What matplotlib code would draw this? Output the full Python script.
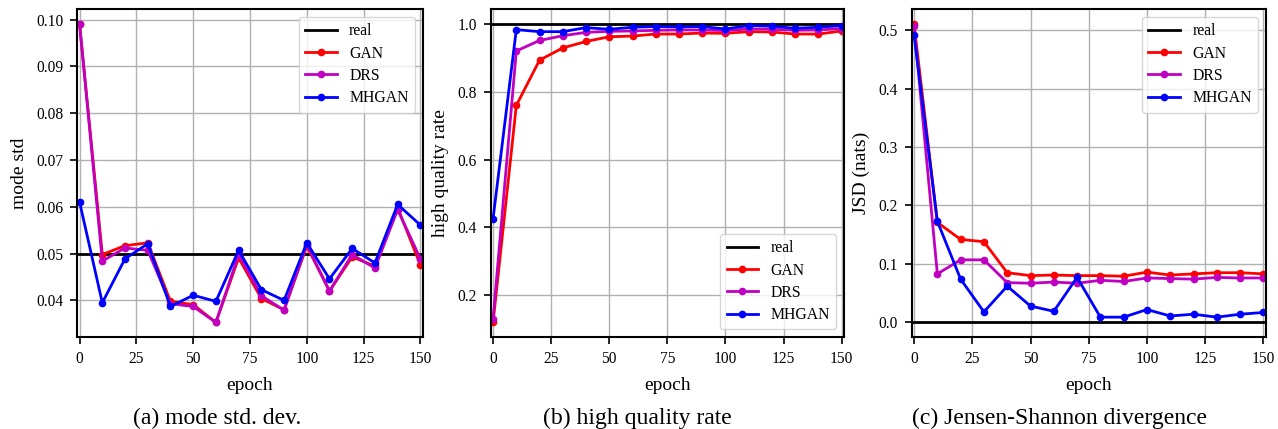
import matplotlib
matplotlib.use("Agg")
import matplotlib.pyplot as plt

plt.rcParams['font.family'] = ['Liberation Serif', 'DejaVu Serif']

epochs = [0, 10, 20, 30, 40, 50, 60, 70, 80, 90, 100, 110, 120, 130, 140, 150]

# (a) mode std
std_real = 0.05
std_gan = [0.0990, 0.0498, 0.0517, 0.0523, 0.0398, 0.0391, 0.0353, 0.0491,
           0.0404, 0.0380, 0.0516, 0.0420, 0.0493, 0.0473, 0.0598, 0.0476]
std_drs = [0.0990, 0.0484, 0.0512, 0.0507, 0.0393, 0.0387, 0.0353, 0.0498,
           0.0410, 0.0379, 0.0519, 0.0420, 0.0498, 0.0469, 0.0594, 0.0489]
std_mh = [0.0610, 0.0395, 0.0489, 0.0521, 0.0387, 0.0411, 0.0398, 0.0507,
          0.0423, 0.0400, 0.0523, 0.0446, 0.0511, 0.0480, 0.0605, 0.0561]

# (b) high quality rate
hq_real = 1.0
hq_gan = [0.119, 0.760, 0.894, 0.930, 0.949, 0.963, 0.965, 0.971,
          0.971, 0.974, 0.973, 0.978, 0.977, 0.971, 0.971, 0.980]
hq_drs = [0.129, 0.921, 0.952, 0.966, 0.976, 0.979, 0.980, 0.982,
          0.983, 0.983, 0.981, 0.986, 0.985, 0.982, 0.983, 0.987]
hq_mh = [0.426, 0.984, 0.978, 0.978, 0.990, 0.985, 0.991, 0.993,
         0.992, 0.993, 0.986, 0.996, 0.994, 0.988, 0.991, 0.996]

# (c) JSD
jsd_real = 0.0
jsd_gan = [0.510, 0.171, 0.142, 0.138, 0.085, 0.080, 0.081, 0.080,
           0.080, 0.079, 0.086, 0.081, 0.083, 0.085, 0.085, 0.083]
jsd_drs = [0.507, 0.083, 0.107, 0.107, 0.068, 0.067, 0.069, 0.067,
           0.072, 0.070, 0.076, 0.075, 0.074, 0.077, 0.076, 0.076]
jsd_mh = [0.491, 0.173, 0.074, 0.018, 0.062, 0.028, 0.019, 0.077,
          0.009, 0.009, 0.022, 0.011, 0.014, 0.009, 0.014, 0.017]

panels = [
    dict(real=std_real, gan=std_gan, drs=std_drs, mh=std_mh, ylabel='mode std',
         caption='(a) mode std. dev.', loc='upper right',
         yticks=[0.04, 0.05, 0.06, 0.07, 0.08, 0.09, 0.10], fmt='{:.2f}'),
    dict(real=hq_real, gan=hq_gan, drs=hq_drs, mh=hq_mh, ylabel='high quality rate',
         caption='(b) high quality rate', loc='lower right',
         yticks=[0.2, 0.4, 0.6, 0.8, 1.0], fmt='{:.1f}'),
    dict(real=jsd_real, gan=jsd_gan, drs=jsd_drs, mh=jsd_mh, ylabel='JSD (nats)',
         caption='(c) Jensen-Shannon divergence', loc='upper right',
         yticks=[0.0, 0.1, 0.2, 0.3, 0.4, 0.5], fmt='{:.1f}'),
]

fig = plt.figure(figsize=(12.78, 4.29), dpi=100)
lefts = [0.0605, 0.3840, 0.7134]
widths = [0.2702, 0.2764, 0.2770]
cap_x = [0.170, 0.499, 0.829]

lw = 2.0
ms = 4.5
for i, p in enumerate(panels):
    ax = fig.add_axes([lefts[i], 0.2137, widths[i], 0.7646])
    ax.grid(True, color='#b0b0b0', linewidth=1.0)
    ax.set_axisbelow(True)
    ax.axhline(p['real'], color='black', lw=lw, label='real')
    ax.plot(epochs, p['gan'], color='#ff0000', lw=lw, marker='o', ms=ms, label='GAN')
    ax.plot(epochs, p['drs'], color='#c000c0', lw=lw, marker='o', ms=ms, label='DRS')
    ax.plot(epochs, p['mh'], color='#0000ff', lw=lw, marker='o', ms=ms, label='MHGAN')
    allv = p['gan'] + p['drs'] + p['mh'] + [p['real']]
    lo, hi = min(allv), max(allv)
    m = (hi - lo) * 0.05
    ax.set_ylim(lo - m, hi + m)
    ax.set_xlim(-1, 151)
    ax.set_xticks([0, 25, 50, 75, 100, 125, 150])
    ax.set_yticks(p['yticks'])
    ax.set_yticklabels([p['fmt'].format(v) for v in p['yticks']])
    ax.tick_params(labelsize=11.2, width=1.2, length=5, pad=5)
    for s in ax.spines.values():
        s.set_linewidth(1.5)
    ax.set_xlabel('epoch', fontsize=14, labelpad=7)
    ax.set_ylabel(p['ylabel'], fontsize=14, labelpad=6)
    ax.legend(loc=p['loc'], fontsize=11.3, labelspacing=0.4)
    fig.text(cap_x[i], 1 - 408 / 429, p['caption'], ha='center', va='top', fontsize=17)

fig.savefig('out.png', dpi=100)
